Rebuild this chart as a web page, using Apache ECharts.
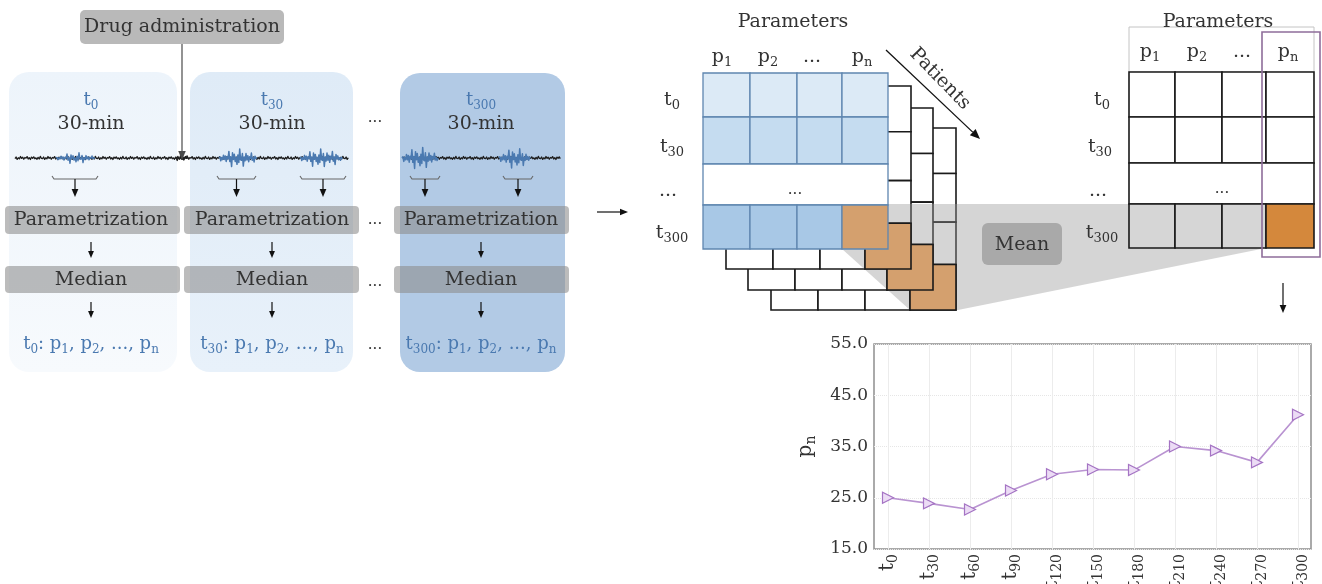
<!DOCTYPE html>
<html><head><meta charset="utf-8">
<script src="https://cdn.jsdelivr.net/npm/echarts@6/dist/echarts.min.js"></script>
<style>html,body{margin:0;padding:0;background:#fff}#c{width:1322px;height:584px}</style>
</head><body><div id="c"></div>
<script>
// ---------- data ----------
const timeLabels = ['0','30','60','90','120','150','180','210','240','270','300'];
const pnValues = [25.0, 23.9, 22.7, 26.4, 29.6, 30.5, 30.4, 35.0, 34.2, 31.9, 41.2];
const yTicks = [15, 25, 35, 45, 55];
const paramSubs = ['1', '2', '...', 'n'];
const rowSubs = ['0', '30', '...', '300'];
const NOISE = [0.35,-0.62,0.88,-0.15,0.54,-0.93,0.27,-0.48,0.76,-0.31,0.12,-0.85,0.63,-0.22,0.95,-0.57,0.18,-0.71,0.44,-0.08,0.81,-0.39,0.59,-0.97,0.23];

// ---------- helpers ----------
const FONT = 'DejaVu Serif';
const INK = '#333333';
const BLUE = '#4a79b0';
const EL = [];
function push(o){ EL.push(o); }
function R(x,y,w,h,fill,stroke,lw,r){ push({type:'rect', shape:{x:x,y:y,width:w,height:h,r:r||0}, style:{fill:fill||'none', stroke:stroke||'none', lineWidth:lw||1}}); }
function L(x1,y1,x2,y2,c,lw){ push({type:'line', shape:{x1:x1,y1:y1,x2:x2,y2:y2}, style:{stroke:c, lineWidth:lw||1}}); }
function PG(pts,fill){ push({type:'polygon', shape:{points:pts}, style:{fill:fill}}); }
function PL(pts,c,lw){ push({type:'polyline', shape:{points:pts}, style:{stroke:c, lineWidth:lw||1, fill:'none', lineJoin:'round'}}); }
function richFor(size,color){
  const ss = Math.round(size*0.68);
  return { b:{fontSize:size,fontFamily:FONT,fill:color,lineHeight:Math.round(size*1.25)},
           s:{fontSize:ss,fontFamily:FONT,fill:color,lineHeight:ss,verticalAlign:'bottom'} };
}
function T(x,y,str,size,color,rot){
  push({type:'text', x:x, y:y, rotation:rot||0,
        style:{text:str, fontSize:size, fontFamily:FONT, fill:color, align:'center', verticalAlign:'middle', rich:richFor(size,color)}});
}
const sub = (b,s) => (s === '...' ? '{b|...}' : '{b|'+b+'}{s|'+s+'}');
function A(x1,y1,x2,y2,c,lw,h){
  h = h||7; const a = Math.atan2(y2-y1,x2-x1), w = h*0.42;
  const bx = x2-h*Math.cos(a), by = y2-h*Math.sin(a);
  L(x1,y1,bx,by,c,lw);
  PG([[x2,y2],[bx-w*Math.sin(a),by+w*Math.cos(a)],[bx+w*Math.sin(a),by-w*Math.cos(a)]],c);
}
function sig(x1,x2,y,amp,color,lw,burst,step){
  const pts=[]; let i=0; step = step||1.2;
  for(let x=x1;x<=x2;x+=step,i++){
    let e=1;
    if(burst){ const t=(x-x1)/(x2-x1); e=Math.pow(Math.sin(Math.PI*t),0.6)*(0.5+0.5*Math.abs(NOISE[(i*7)%NOISE.length])); }
    pts.push([x, y+NOISE[i%NOISE.length]*amp*e]);
  }
  PL(pts,color,lw);
}
function brace(a,b,y){
  PL([[a,y-3],[a+2,y],[b-2,y],[b,y-3]],'#666',1.1);
  A((a+b)/2,y,(a+b)/2,197,'#111',1.2,8);
}

// ---------- left part ----------
const g1 = new echarts.graphic.LinearGradient(0,0,0,1,[{offset:0,color:'#edf4fb'},{offset:1,color:'#f7fafd'}]);
const g2 = new echarts.graphic.LinearGradient(0,0,0,1,[{offset:0,color:'#dfebf7'},{offset:1,color:'#e8f1fa'}]);
R(9,72,168,300,g1,null,0,20);
R(190,72,163,300,g2,null,0,20);
R(400,73,165,299,'#b2cae5',null,0,20);

R(80,10,204,34,'#b9b9b9',null,0,5);
T(182,27,'Drug administration',19,INK);

const panelCx = [91,272,481];
const panelT = ['0','30','300'];
for(let k=0;k<3;k++){
  T(panelCx[k],100,sub('t',panelT[k]),18,BLUE);
  T(panelCx[k],124,'30-min',19,INK);
}
T(375,118,'...',15,INK);

// signals
sig(15,349,158,1.6,'#1e1e1e',1.3,false,1.1);
sig(175,189,158,4.5,'#1e1e1e',1.3,true,1.1);
sig(56,95,158,6,BLUE,1.4,true,1.0);
sig(219,257,158,10,BLUE,1.5,true,0.9);
sig(300,343,158,10,BLUE,1.5,true,0.9);
sig(403,561,158,1.6,'#1e1e1e',1.3,false,1.1);
sig(402,438,158,12,BLUE,1.5,true,0.9);
sig(499,531,158,11,BLUE,1.5,true,0.9);
A(182,44,182,160,'#4a4a4a',1.2,9);

brace(52,98,179); brace(217,256,179); brace(300,346,179); brace(410,440,179); brace(503,533,179);

const barX = [[5,175],[184,175],[394,175]];
for(let k=0;k<3;k++){
  R(barX[k][0],206,barX[k][1],28,'rgba(140,140,140,0.58)',null,0,4);
  T(panelCx[k],220,'Parametrization',19,INK);
  A(panelCx[k],242,panelCx[k],258,'#111',1.2,7);
  R(barX[k][0],266,barX[k][1],27,'rgba(140,140,140,0.58)',null,0,4);
  T(panelCx[k],280,'Median',19,INK);
  A(panelCx[k],302,panelCx[k],318,'#111',1.2,7);
  T(panelCx[k],344,'{b|t}{s|'+panelT[k]+'}{b|: p}{s|1}{b|, p}{s|2}{b|, ..., p}{s|n}',18,BLUE);
}
T(375,220,'...',15,INK); T(375,282,'...',15,INK); T(375,345,'...',15,INK);

A(597,212,628,212,'#111',1.2,8);

// ---------- middle matrix ----------
const mCols = [703,750,797,842,888];
const mRows = [73,117,164,205,249];
const layers = [{dx:68,top:128,bot:310},{dx:45,top:108,bot:290},{dx:23,top:86,bot:269}];
function layerRows(l){ return mRows.map(r => l.top + (r-mRows[0])/(mRows[4]-mRows[0])*(l.bot-l.top)); }
layers.forEach(l => {
  const rr = layerRows(l);
  for(let r=0;r<4;r++){
    if(r===2){ R(mCols[0]+l.dx, rr[2], mCols[4]-mCols[0], rr[3]-rr[2], '#fff','#1a1a1a',1.6); continue; }
    for(let c=0;c<4;c++) R(mCols[c]+l.dx, rr[r], mCols[c+1]-mCols[c], rr[r+1]-rr[r], '#fff','#1a1a1a',1.6);
  }
});
// mean shadow
PG([[842,249],[910,310],[958,310],[1266,248],[1266,204],[888,204]],'rgba(150,150,150,0.4)');
layers.forEach(l => {
  const rr = layerRows(l);
  R(mCols[3]+l.dx, rr[3], mCols[4]-mCols[3], rr[4]-rr[3], '#d4a06e','#1a1a1a',1.6);
});
const mFill = ['#dceaf6','#c5dcf0','#ffffff','#a8c8e6'];
for(let r=0;r<4;r++){
  if(r===2){ R(mCols[0], mRows[2], mCols[4]-mCols[0], mRows[3]-mRows[2], '#fff','#5f86b0',1.3); continue; }
  for(let c=0;c<4;c++){
    const f = (r===3 && c===3) ? '#d4a06e' : mFill[r];
    R(mCols[c], mRows[r], mCols[c+1]-mCols[c], mRows[r+1]-mRows[r], f,'#5f86b0',1.3);
  }
}
T(795,190,'...',15,INK);
T(793,22,'Parameters',19,INK);
const mColLab = [722,768,812,862];
paramSubs.forEach((s,i) => T(mColLab[i], 57, sub('p',s), 19, INK));
const mRowLabY = [100,147,191,233];
rowSubs.forEach((s,i) => T(s==='...'?668:672, mRowLabY[i], sub('t',s), 19, INK));
T(940,79,'Patients',19,INK,-0.8);
A(886,50,980,139,'#111',1.3,10);

// ---------- right matrix ----------
const rCols = [1129,1175,1222,1266,1314];
const rRows = [72,117,163,204,248];
R(1129,27,185,45,'none','#c4c4c4',1);
T(1218,22,'Parameters',19,INK);
const rColLab = [1150,1197,1242,1288];
paramSubs.forEach((s,i) => T(rColLab[i], 52, sub('p',s), 19, INK));
for(let r=0;r<4;r++){
  if(r===2){ R(rCols[0], rRows[2], rCols[4]-rCols[0], rRows[3]-rRows[2], '#fff','#1a1a1a',1.6); continue; }
  for(let c=0;c<4;c++){
    const f = r===3 ? (c===3 ? '#d4883c' : '#d6d6d6') : '#fff';
    R(rCols[c], rRows[r], rCols[c+1]-rCols[c], rRows[r+1]-rRows[r], f,'#1a1a1a',1.6);
  }
}
T(1222,189,'...',15,INK);
const rRowLabX = [1102,1100,1098,1102];
rowSubs.forEach((s,i) => T(rRowLabX[i], mRowLabY[i], sub('t',s), 19, INK));
R(1262,32,58,225,'none','#8e6d9a',1.6);
R(982,223,80,42,'#a9a9a9',null,0,6);
T(1022,245,'Mean',19,INK);
A(1283,283,1283,313,'#111',1.2,8);

// ---------- chart ----------
const axisRich = {
  t:{fontFamily:FONT,fontSize:20,color:INK,lineHeight:24},
  s:{fontFamily:FONT,fontSize:14,color:INK,lineHeight:14,verticalAlign:'bottom'}
};
const chart = echarts.init(document.getElementById('c'));
chart.setOption({
  animation:false,
  grid:[
    {left:874, top:344, width:437, height:205, show:true, borderColor:'#8f8f8f', borderWidth:1.5, backgroundColor:'rgba(0,0,0,0)', outerBoundsMode:'none', containLabel:false},
    {left:888, top:344, width:410, height:205, outerBoundsMode:'none', containLabel:false}
  ],
  xAxis:[
    {gridIndex:0, type:'value', min:0, max:1, show:false},
    {gridIndex:1, type:'category', data:timeLabels, boundaryGap:false,
     axisLine:{show:false}, axisTick:{show:false},
     axisLabel:{interval:0, rotate:90, margin:5, formatter:v => '{t|t}{s|'+v+'}', rich:axisRich},
     splitLine:{show:true, lineStyle:{color:'#ececec', width:1}}}
  ],
  yAxis:[
    {gridIndex:0, type:'value', min:yTicks[0], max:yTicks[yTicks.length-1], interval:10,
     axisLine:{show:false}, axisTick:{show:false},
     axisLabel:{formatter:v => v.toFixed(1), margin:6, fontFamily:FONT, fontSize:17, color:INK},
     splitLine:{show:true, lineStyle:{color:'#e6e6e6', type:'dotted'}},
     name:'{t|p}{s|n}', nameLocation:'middle', nameGap:56, nameRotate:90,
     nameTextStyle:{rich:axisRich}},
    {gridIndex:1, type:'value', min:yTicks[0], max:yTicks[yTicks.length-1], show:false}
  ],
  series:[
    {type:'line', xAxisIndex:0, yAxisIndex:0, data:[], silent:true},
    {type:'line', xAxisIndex:1, yAxisIndex:1, data:pnValues,
     symbol:'triangle', symbolRotate:-90, symbolSize:11,
     lineStyle:{color:'#b993d1', width:1.6},
     itemStyle:{color:'#ecdcf5', borderColor:'#a574c4', borderWidth:1.2}}
  ],
  graphic:{elements:EL}
});
</script></body></html>
